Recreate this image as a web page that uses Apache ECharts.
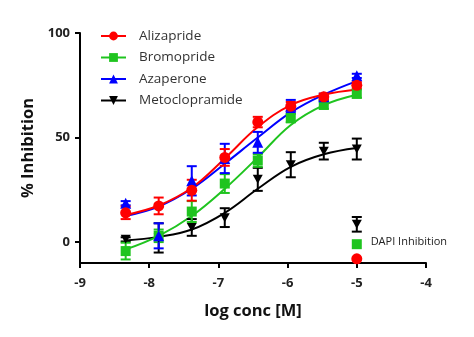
<!DOCTYPE html>
<html><head><meta charset="utf-8">
<script src="https://cdn.jsdelivr.net/npm/echarts@6/dist/echarts.min.js"></script>
<style>html,body{margin:0;padding:0;background:#fff}#c{width:474px;height:337px}</style>
</head><body><div id="c"></div>
<script>
const xVals = [-8.34, -7.863, -7.385, -6.908, -6.431, -5.954, -5.477, -5.0];
const seriesNames = ['Alizapride', 'Bromopride', 'Azaperone', 'Metoclopramide'];
const alizapride = [14, 17.3, 24.8, 40.5, 57.4, 65, 69.5, 75];
const alizaprideErr = [3, 4, 5, 4, 2.5, 2, 1.5, 1.5];
const alizaprideFit = [13, 17.5, 26, 40, 55, 65.5, 70.5, 73];
const bromopride = [-4.3, 3, 14.6, 28, 39, 59.3, 65.7, 71];
const bromoprideErr = [4, 3, 5, 4.5, 3, 2, 2, 2];
const bromoprideFit = [-3.5, 3, 12.5, 25.5, 40.5, 56, 65.5, 70.5];
const azaperone = [18.6, 3, 29.3, 40, 47.7, 65, 69.5, 79.5];
const azaperoneErr = [1, 6, 7, 7, 5, 3, 1.5, 1];
const azaperoneFit = [12.5, 17, 25.5, 37.5, 50, 62, 70.5, 77];
const metoclopramide = [1.3, 2, 7, 11.7, 30, 37, 43.5, 44.5];
const metoclopramideErr = [1, 7, 4, 4.5, 5.5, 6, 4, 5];
const metoclopramideFit = [0.8, 2.5, 6, 14, 25.5, 36, 42, 45];
const dapiX = -5.0;
const dapiValues = [-8, -1, null, 8.5];
const dapiErr = [0, 0, 0, 3.5];
const xTicks = [-9, -8, -7, -6, -5, -4];
const yTicks = [0, 50, 100];

const colors = ['#ff0000', '#1fc41f', '#0000ff', '#000000'];
const symbols = ['circle', 'rect', 'triangle', 'path://M0,0 L10,0 L5,9 Z'];
const vals = [alizapride, bromopride, azaperone, metoclopramide];
const errs = [alizaprideErr, bromoprideErr, azaperoneErr, metoclopramideErr];
const fits = [alizaprideFit, bromoprideFit, azaperoneFit, metoclopramideFit];

const series = [];
const order = [3, 1, 2, 0];
order.forEach(function (i) {
  const name = seriesNames[i];
  series.push({
    name: name, type: 'line', smooth: 0.4, showSymbol: false,
    symbol: symbols[i], symbolSize: 10,
    itemStyle: {color: colors[i]},
    lineStyle: {color: colors[i], width: 2},
    data: xVals.map(function (x, k) { return [x, fits[i][k]]; }),
    z: 2
  });
  const eb = xVals.map(function (x, k) { return [x, vals[i][k] - errs[i][k], vals[i][k] + errs[i][k]]; });
  if (dapiValues[i] !== null && dapiErr[i] > 0) eb.push([dapiX, dapiValues[i] - dapiErr[i], dapiValues[i] + dapiErr[i]]);
  series.push({
    name: name, type: 'custom',
    renderItem: function (params, api) {
      const x = api.value(0);
      const lo = api.coord([x, api.value(1)]);
      const hi = api.coord([x, api.value(2)]);
      const w = 5;
      const st = {stroke: colors[i], lineWidth: 2};
      return {type: 'group', children: [
        {type: 'line', shape: {x1: lo[0], y1: lo[1], x2: hi[0], y2: hi[1]}, style: st},
        {type: 'line', shape: {x1: lo[0] - w, y1: lo[1], x2: lo[0] + w, y2: lo[1]}, style: st},
        {type: 'line', shape: {x1: hi[0] - w, y1: hi[1], x2: hi[0] + w, y2: hi[1]}, style: st}
      ]};
    },
    encode: {x: 0, y: [1, 2]},
    data: eb, z: 3, silent: true
  });
  const pts = xVals.map(function (x, k) { return [x, vals[i][k]]; });
  if (dapiValues[i] !== null) pts.push([dapiX, dapiValues[i]]);
  series.push({
    name: name, type: 'scatter', symbol: symbols[i],
    symbolSize: i === 3 ? [10, 9] : (i === 1 ? 10 : 11),
    itemStyle: {color: colors[i], opacity: 1},
    data: pts, z: 4
  });
});

series.push({
  type: 'scatter', data: [], silent: true,
  markPoint: {
    symbol: 'rect', symbolSize: 0,
    label: {show: true, formatter: 'DAPI Inhibition', position: 'right', color: '#222', fontSize: 11, fontFamily: 'Open Sans', distance: 0},
    data: [{coord: [-5.0 + 0.2, 0]}]
  }
});

const chart = echarts.init(document.getElementById('c'));
chart.setOption({
  animation: false,
  grid: {left: 80, right: 48, top: 33, bottom: 74},
  legend: {
    orient: 'vertical', left: 95, top: 22, itemWidth: 25, itemHeight: 11, itemGap: 3.5,
    data: seriesNames,
    textStyle: {fontFamily: 'Open Sans', fontSize: 13.5, color: '#333', lineHeight: 18, padding: [0, 0, 0, 8]}
  },
  xAxis: {
    type: 'value', min: -9, max: -4, interval: 1,
    name: 'log conc [M]', nameLocation: 'middle', nameGap: 40,
    nameTextStyle: {fontFamily: 'Open Sans', fontWeight: 'bold', fontSize: 16.5, color: '#111'},
    axisLine: {onZero: false, lineStyle: {color: '#000', width: 2}},
    axisTick: {show: true, length: 5, lineStyle: {color: '#000', width: 2}},
    axisLabel: {fontFamily: 'Open Sans', fontWeight: 'bold', fontSize: 13, color: '#222', margin: 14,
      formatter: function (v) { return xTicks.indexOf(v) >= 0 ? String(v) : ''; }},
    splitLine: {show: false}
  },
  yAxis: {
    type: 'value', min: -10, max: 100,
    name: '% Inhibition', nameLocation: 'middle', nameGap: 39, nameRotate: 90,
    nameTextStyle: {fontFamily: 'Open Sans', fontWeight: 'bold', fontSize: 16.5, color: '#111'},
    axisLine: {show: true, onZero: false, lineStyle: {color: '#000', width: 2}},
    axisTick: {show: true, length: 5, lineStyle: {color: '#000', width: 2}, customValues: yTicks},
    axisLabel: {fontFamily: 'Open Sans', fontWeight: 'bold', fontSize: 13, color: '#222', margin: 10, customValues: yTicks},
    splitLine: {show: false}
  },
  series: series
});
</script>
</body></html>
